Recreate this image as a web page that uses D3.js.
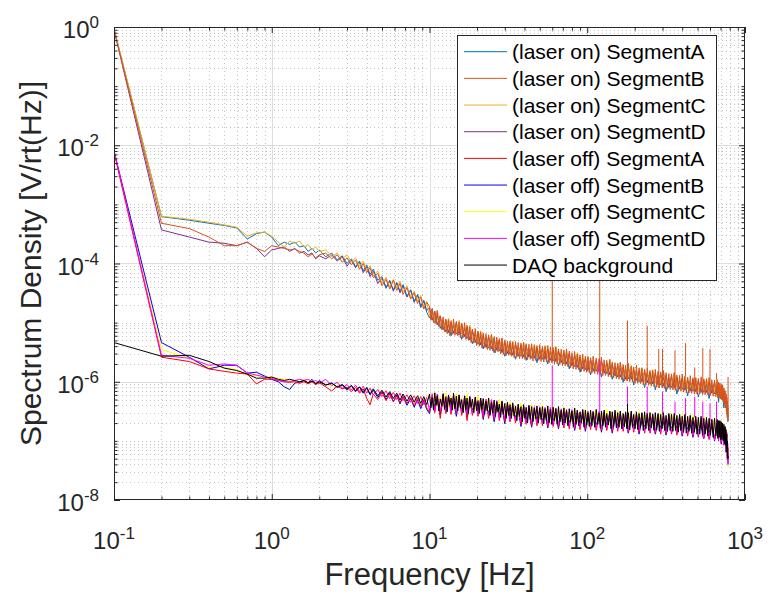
<!DOCTYPE html>
<html>
<head>
<meta charset="utf-8">
<script src="https://cdn.jsdelivr.net/npm/d3@7"></script>
<style>
  body { margin: 0; background: #fff; }
  svg { display: block; font-family: "Liberation Sans", Arial, Helvetica, sans-serif; }
</style>
</head>
<body>
<svg id="chart" width="771" height="596"></svg>
<script>
// Frequency bins (Hz). Below 10 Hz every trace shares the same bins;
// above 10 Hz most traces use the standard grid, two use a finer one.
const freqLowHz = [
  0.1,0.2,0.3,0.4,0.5,0.6,0.7,0.8,0.9,1.0,1.1,1.2,1.3,1.4,1.5,1.6,1.7,1.8,1.9,2.0,
  2.2,2.4,2.6,2.8,3.0,3.2,3.4,3.6,3.8,4.0,4.2,4.4,4.7,5.0,5.3,5.6,5.9,6.2,6.5,6.8,7.2,7.6,8.0,8.4,8.8,9.2,9.6
];
const freqHighHz = [
  10,10.4,10.8,11.2,11.7,12.2,12.7,13.2,13.7,14.2,
  14.8,15.4,16,16.7,17.3,18,18.7,19.5,20.3,21.1,
  21.9,22.8,23.7,24.7,25.7,26.7,27.7,28.8,30,31.2,
  32.4,33.7,35.1,36.5,38,39.5,41,42.7,44.4,46.2,
  48,50,52,54,56.2,58.4,60.8,63.2,65.7,68.4,
  71.1,73.9,76.9,80,83.2,86.5,90,93.6,97.3,101,
  105,109,114,119,123,128,133,139,144,150,
  156,162,169,175,182,190,197,205,213,222,
  231,240,250,260,270,281,292,304,316,329,
  342,356,370,385,400,416,433,450,468,487,
  506,527,548,570,592,616,641,666,680,693,
  707,721,735,748,758,766,772,777,781
];
const freqHighFineHz = [
  10,10.2,10.4,10.6,10.8,11.0,11.2,11.45,11.7,11.95,12.2,12.45,12.7,12.95,13.2,13.45,13.7,13.95,14.2,14.5,
  14.8,15.1,15.4,15.7,16.0,16.35,16.7,17.0,17.3,17.65,18.0,18.35,18.7,19.1,19.5,19.9,20.3,20.7,21.1,21.5,
  21.9,22.35,22.8,23.25,23.7,24.2,24.7,25.2,25.7,26.2,26.7,27.2,27.7,28.25,28.8,29.4,30.0,30.6,31.2,31.8,
  32.4,33.05,33.7,34.4,35.1,35.8,36.5,37.25,38.0,38.75,39.5,40.25,41.0,41.85,42.7,43.55,44.4,45.3,46.2,47.1,
  48.0,49.0,50.0,51.0,52.0,53.0,54.0,55.1,56.2,57.3,58.4,59.6,60.8,62.0,63.2,64.45,65.7,67.05,68.4,69.75,
  71.1,72.5,73.9,75.4,76.9,78.45,80.0,81.6,83.2,84.85,86.5,88.25,90.0,91.8,93.6,95.45,97.3,99.15,101,103,
  105,107,109,111.5,114,116.5,119,121,123,125.5,128,130.5,133,136,139,141.5,144,147,150,153,
  156,159,162,165.5,169,172,175,178.5,182,186,190,193.5,197,201,205,209,213,217.5,222,226.5,
  231,235.5,240,245,250,255,260,265,270,275.5,281,286.5,292,298,304,310,316,322.5,329,335.5,
  342,349,356,363,370,377.5,385,392.5,400,408,416,424.5,433,441.5,450,459,468,477.5,487,496.5,
  506,516.5,527,537.5,548,559,570,581,592,604,616,628.5,641,653.5,666,673,680,686.5,693,700,
  707,714,721,728,735,741.5,748,753,758,762,766,769,772,774.5,777,779,781
];

// Spectrum density, V/rt(Hz) — laser on
const onA = [
  0.93,6.2e-4,5.4e-4,4.8e-4,4.4e-4,4.0e-4,2.6e-4,3.2e-4,3.4e-4,2.8e-4,
  2.0e-4,2.3e-4,2.1e-4,2.3e-4,1.9e-4,2.0e-4,1.6e-4,1.8e-4,1.5e-4,1.7e-4,
  1.3e-4,1.5e-4,1.15e-4,1.35e-4,1.0e-4,1.2e-4,8.8e-5,1.1e-4,7.5e-5,9.5e-5,
  6.5e-5,8.0e-5,5.2e-5,6.0e-5,3.8e-5,5.0e-5,3.6e-5,4.8e-5,3.4e-5,4.4e-5,
  2.8e-5,3.6e-5,2.3e-5,3.0e-5,1.9e-5,2.4e-5,1.5e-5,
  1.2e-5,1.7e-5,1.0e-5,1.35e-5,8.0e-6,1.1e-5,7.0e-6,9.5e-6,6.0e-6,9.0e-6,
  6.4e-6,8.6e-6,5.2e-6,8.0e-6,5.4e-6,7.2e-6,4.4e-6,6.6e-6,4.3e-6,6.0e-6,
  3.6e-6,5.6e-6,3.7e-6,5.1e-6,3.1e-6,4.8e-6,3.3e-6,4.5e-6,2.7e-6,4.3e-6,
  2.9e-6,4.0e-6,2.4e-6,3.9e-6,2.7e-6,3.7e-6,2.3e-6,3.6e-6,2.5e-6,3.5e-6,
  2.1e-6,3.4e-6,2.4e-6,3.3e-6,2.0e-6,3.2e-6,2.25e-6,3.1e-6,1.85e-6,2.9e-6,
  2.0e-6,2.8e-6,1.65e-6,2.6e-6,1.8e-6,2.5e-6,1.45e-6,2.3e-6,1.6e-6,2.2e-6,
  1.3e-6,2.1e-6,1.5e-6,2.0e-6,1.2e-6,1.95e-6,1.36e-6,1.85e-6,1.1e-6,1.75e-6,
  1.2e-6,1.7e-6,9.8e-7,1.6e-6,1.12e-6,1.5e-6,8.8e-7,1.45e-6,1.0e-6,1.4e-6,
  8.0e-7,1.35e-6,9.2e-7,1.3e-6,7.3e-7,1.25e-6,8.8e-7,1.2e-6,6.8e-7,1.15e-6,
  8.0e-7,1.1e-6,6.2e-7,1.05e-6,7.4e-7,1.0e-6,5.8e-7,9.8e-7,6.9e-7,9.6e-7,
  5.5e-7,9.4e-7,6.6e-7,9.2e-7,5.2e-7,9.0e-7,6.2e-7,8.6e-7,4.5e-7,8.0e-7,
  5.4e-7,7.4e-7,3.6e-7,6.4e-7,3.7e-7,5.0e-7,2.5e-7,3.6e-7,2.2e-7
];
const onB = [
  0.9,4.8e-4,3.9e-4,2.8e-4,2.0e-4,2.0e-4,2.3e-4,1.8e-4,1.6e-4,2.0e-4,
  1.9e-4,1.8e-4,1.7e-4,1.75e-4,1.6e-4,1.5e-4,1.3e-4,1.45e-4,1.25e-4,1.4e-4,
  1.5e-4,1.2e-4,1.4e-4,1.05e-4,1.25e-4,9.5e-5,1.15e-4,8.0e-5,1.0e-4,7.0e-5,
  8.5e-5,5.8e-5,6.8e-5,4.2e-5,5.4e-5,3.7e-5,5.2e-5,3.5e-5,4.6e-5,3.0e-5,
  3.9e-5,2.5e-5,3.2e-5,2.1e-5,2.7e-5,1.7e-5,2.2e-5,
  1.9e-5,1.1e-5,1.75e-5,1.0e-5,1.55e-5,9.4e-6,1.6e-5,8.6e-6,1.3e-5,7.6e-6,1.25e-5,7.0e-6,1.15e-5,6.5e-6,1.12e-5,6.0e-6,1.08e-5,6.3e-6,1.15e-5,6.1e-6,
  1.05e-5,6.0e-6,1.02e-5,5.5e-6,9.8e-6,5.6e-6,1.0e-5,5.2e-6,9.0e-6,5.0e-6,8.5e-6,4.6e-6,7.8e-6,4.5e-6,7.9e-6,4.1e-6,7.2e-6,4.0e-6,6.9e-6,3.7e-6,
  6.7e-6,3.8e-6,6.5e-6,3.5e-6,6.2e-6,3.4e-6,6.3e-6,3.3e-6,5.8e-6,3.1e-6,5.7e-6,3.2e-6,5.4e-6,2.95e-6,5.5e-6,2.9e-6,5.1e-6,2.75e-6,4.9e-6,2.8e-6,
  4.9e-6,2.7e-6,4.7e-6,2.55e-6,4.8e-6,2.6e-6,4.6e-6,2.45e-6,4.5e-6,2.45e-6,4.6e-6,2.45e-6,4.4e-6,2.35e-6,4.3e-6,2.4e-6,4.4e-6,2.25e-6,4.15e-6,2.3e-6,
  4.1e-6,2.3e-6,4.25e-6,2.2e-6,4.0e-6,2.15e-6,3.95e-6,2.15e-6,4.1e-6,2.1e-6,3.85e-6,2.1e-6,3.8e-6,2.0e-6,3.9e-6,2.0e-6,3.6e-6,1.95e-6,3.55e-6,1.85e-6,
  3.45e-6,1.85e-6,3.6e-6,1.8e-6,3.3e-6,1.72e-6,3.1e-6,1.65e-6,3.25e-6,1.62e-6,2.95e-6,1.6e-6,2.85e-6,1.5e-6,2.95e-6,1.5e-6,2.7e-6,1.45e-6,2.65e-6,1.42e-6,
  2.55e-6,1.4e-6,2.7e-6,1.38e-6,2.5e-6,1.33e-6,2.45e-6,1.33e-6,2.6e-6,1.27e-6,2.35e-6,1.28e-6,2.3e-6,1.22e-6,2.4e-6,1.2e-6,2.15e-6,1.16e-6,2.1e-6,1.13e-6,
  2.05e-6,1.1e-6,2.15e-6,1.08e-6,1.95e-6,1.04e-6,1.92e-6,1.03e-6,2.05e-6,1.0e-6,1.82e-6,9.9e-7,1.78e-6,9.5e-7,1.9e-6,9.4e-7,1.72e-6,9.3e-7,1.7e-6,8.9e-7,
  1.62e-6,8.9e-7,1.72e-6,8.7e-7,1.56e-6,8.4e-7,1.55e-6,8.3e-7,1.62e-6,8.1e-7,1.5e-6,7.9e-7,1.47e-6,7.9e-7,1.55e-6,7.7e-7,1.42e-6,7.5e-7,1.37e-6,7.4e-7,
  1.36e-6,7.3e-7,1.43e-6,7.2e-7,1.3e-6,6.9e-7,1.28e-6,6.9e-7,1.35e-6,6.7e-7,1.23e-6,6.5e-7,1.2e-6,6.5e-7,1.27e-6,6.4e-7,1.17e-6,6.2e-7,1.15e-6,6.2e-7,
  1.14e-6,6.2e-7,1.21e-6,6.1e-7,1.12e-6,6.0e-7,1.11e-6,6.0e-7,1.18e-6,5.9e-7,1.08e-6,5.7e-7,1.06e-6,5.6e-7,1.1e-6,5.4e-7,9.8e-7,5.3e-7,9.5e-7,5.1e-7,
  9.1e-7,4.9e-7,8.7e-7,4.5e-7,7.9e-7,4.1e-7,7.1e-7,3.6e-7,6.3e-7,3.2e-7,5.5e-7,2.8e-7,4.7e-7,2.4e-7,4.0e-7,2.1e-7,2.9e-7
];
const onC = [
  0.95,6.3e-4,5.6e-4,5.0e-4,4.5e-4,4.1e-4,2.9e-4,3.3e-4,3.4e-4,2.9e-4,
  2.3e-4,1.9e-4,2.4e-4,2.2e-4,2.4e-4,1.9e-4,2.1e-4,1.7e-4,1.9e-4,1.6e-4,
  1.7e-4,1.3e-4,1.5e-4,1.2e-4,1.4e-4,1.05e-4,1.25e-4,9.0e-5,1.1e-4,7.8e-5,
  9.2e-5,6.2e-5,7.5e-5,4.6e-5,5.8e-5,4.0e-5,5.4e-5,3.9e-5,5.0e-5,3.3e-5,
  4.2e-5,2.7e-5,3.4e-5,2.3e-5,2.9e-5,1.8e-5,2.3e-5,
  1.25e-5,1.6e-5,1.05e-5,1.6e-5,9.0e-6,1.15e-5,7.5e-6,1.2e-5,7.0e-6,9.8e-6,
  6.8e-6,1.1e-5,6.4e-6,8.6e-6,5.8e-6,9.0e-6,5.1e-6,6.8e-6,4.6e-6,7.3e-6,
  4.3e-6,5.8e-6,3.9e-6,6.3e-6,3.7e-6,5.0e-6,3.5e-6,5.5e-6,3.2e-6,4.4e-6,
  3.1e-6,4.9e-6,2.9e-6,4.1e-6,2.8e-6,4.6e-6,2.8e-6,3.8e-6,2.7e-6,4.3e-6,
  2.6e-6,3.6e-6,2.6e-6,4.1e-6,2.5e-6,3.4e-6,2.4e-6,3.9e-6,2.3e-6,3.1e-6,
  2.1e-6,3.4e-6,2.0e-6,2.8e-6,1.9e-6,3.1e-6,1.8e-6,2.5e-6,1.7e-6,2.7e-6,
  1.6e-6,2.3e-6,1.6e-6,2.5e-6,1.5e-6,2.1e-6,1.45e-6,2.3e-6,1.35e-6,1.85e-6,
  1.3e-6,2.1e-6,1.25e-6,1.7e-6,1.2e-6,1.9e-6,1.1e-6,1.55e-6,1.05e-6,1.75e-6,
  1.0e-6,1.45e-6,9.8e-7,1.6e-6,9.4e-7,1.32e-6,9.4e-7,1.5e-6,9.0e-7,1.2e-6,
  8.5e-7,1.4e-6,8.2e-7,1.12e-6,7.8e-7,1.25e-6,7.5e-7,1.04e-6,7.3e-7,1.2e-6,
  7.1e-7,1.0e-6,7.0e-7,1.15e-6,6.9e-7,9.6e-7,6.6e-7,1.05e-6,6.1e-7,8.4e-7,
  5.7e-7,8.8e-7,4.9e-7,6.2e-7,3.9e-7,5.6e-7,3.0e-7,3.6e-7,2.5e-7
];
const onD = [
  0.9,3.7e-4,2.8e-4,2.3e-4,2.2e-4,2.0e-4,2.3e-4,1.8e-4,1.3e-4,1.7e-4,
  1.8e-4,1.9e-4,1.6e-4,1.8e-4,1.5e-4,1.6e-4,1.4e-4,1.5e-4,1.2e-4,1.35e-4,
  1.2e-4,1.4e-4,1.1e-4,1.3e-4,9.0e-5,1.15e-4,8.5e-5,1.05e-4,7.0e-5,8.8e-5,
  6.0e-5,7.4e-5,4.6e-5,5.6e-5,4.0e-5,5.2e-5,3.4e-5,4.6e-5,3.2e-5,4.2e-5,
  2.7e-5,3.5e-5,2.2e-5,2.9e-5,1.8e-5,2.3e-5,1.6e-5,
  1.8e-5,1.1e-5,1.55e-5,9.2e-6,1.3e-5,7.6e-6,1.1e-5,6.8e-6,1.0e-5,6.6e-6,
  1.0e-5,6.2e-6,9.4e-6,5.8e-6,8.5e-6,5.1e-6,7.5e-6,4.6e-6,6.8e-6,4.2e-6,
  6.2e-6,3.8e-6,5.8e-6,3.6e-6,5.4e-6,3.4e-6,5.1e-6,3.1e-6,4.8e-6,3.0e-6,
  4.5e-6,2.8e-6,4.3e-6,2.7e-6,4.2e-6,2.6e-6,4.1e-6,2.6e-6,3.9e-6,2.5e-6,
  3.8e-6,2.4e-6,3.7e-6,2.4e-6,3.6e-6,2.3e-6,3.5e-6,2.2e-6,3.4e-6,2.1e-6,
  3.1e-6,2.0e-6,3.0e-6,1.85e-6,2.8e-6,1.75e-6,2.6e-6,1.65e-6,2.5e-6,1.55e-6,
  2.4e-6,1.5e-6,2.3e-6,1.45e-6,2.25e-6,1.4e-6,2.1e-6,1.3e-6,2.0e-6,1.25e-6,
  1.9e-6,1.2e-6,1.8e-6,1.1e-6,1.75e-6,1.1e-6,1.6e-6,1.05e-6,1.55e-6,1.0e-6,
  1.5e-6,9.6e-7,1.45e-6,9.2e-7,1.4e-6,8.8e-7,1.4e-6,8.4e-7,1.3e-6,8.0e-7,
  1.25e-6,7.8e-7,1.2e-6,7.5e-7,1.15e-6,7.2e-7,1.1e-6,7.0e-7,1.1e-6,6.8e-7,
  1.05e-6,6.6e-7,1.05e-6,6.6e-7,1.0e-6,6.4e-7,9.8e-7,6.0e-7,9.0e-7,5.6e-7,
  8.4e-7,5.0e-7,7.2e-7,4.2e-7,5.8e-7,3.2e-7,4.4e-7,2.5e-7,2.8e-7
];

// Spectrum density, V/rt(Hz) — laser off
const offA = [
  7.6e-3,2.6e-6,2.2e-6,1.65e-6,1.5e-6,1.4e-6,1.35e-6,9.2e-7,1.1e-6,1.1e-6,
  1.05e-6,1.0e-6,9.8e-7,1.0e-6,9.4e-7,1.0e-6,9.2e-7,1.0e-6,9.0e-7,9.6e-7,
  8.2e-7,7.0e-7,8.4e-7,7.6e-7,8.0e-7,6.8e-7,8.0e-7,6.4e-7,7.6e-7,5.2e-7,
  4.1e-7,6.2e-7,5.0e-7,6.6e-7,4.8e-7,6.2e-7,4.6e-7,5.8e-7,4.4e-7,5.6e-7,
  4.3e-7,5.4e-7,3.9e-7,5.2e-7,3.8e-7,5.0e-7,3.6e-7,
  3.1e-7,5.8e-7,3.0e-7,5.7e-7,2.4e-7,5.6e-7,2.9e-7,5.5e-7,2.8e-7,5.4e-7,
  2.9e-7,5.4e-7,2.7e-7,5.2e-7,2.2e-7,5.1e-7,2.7e-7,5.0e-7,2.6e-7,4.8e-7,
  2.5e-7,4.7e-7,2.4e-7,4.6e-7,2.3e-7,4.4e-7,2.2e-7,4.2e-7,2.1e-7,4.0e-7,
  2.1e-7,3.9e-7,2.0e-7,3.7e-7,1.9e-7,3.6e-7,1.9e-7,3.6e-7,1.8e-7,3.5e-7,
  1.8e-7,3.5e-7,1.8e-7,3.4e-7,1.75e-7,3.4e-7,1.75e-7,3.3e-7,1.7e-7,3.3e-7,
  1.65e-7,3.2e-7,1.6e-7,3.1e-7,1.6e-7,3.1e-7,1.55e-7,3.0e-7,1.55e-7,3.0e-7,
  1.55e-7,3.0e-7,1.5e-7,2.9e-7,1.5e-7,2.9e-7,1.5e-7,2.9e-7,1.45e-7,2.9e-7,
  1.45e-7,2.8e-7,1.45e-7,2.8e-7,1.4e-7,2.8e-7,1.4e-7,2.7e-7,1.4e-7,2.7e-7,
  1.35e-7,2.7e-7,1.35e-7,2.7e-7,1.35e-7,2.6e-7,1.3e-7,2.6e-7,1.3e-7,2.6e-7,
  1.3e-7,2.5e-7,1.25e-7,2.5e-7,1.25e-7,2.5e-7,1.2e-7,2.4e-7,1.2e-7,2.3e-7,
  1.15e-7,2.3e-7,1.1e-7,2.2e-7,1.05e-7,2.1e-7,1.05e-7,2.0e-7,1.0e-7,2.0e-7,
  9.4e-8,1.8e-7,8.4e-8,1.6e-7,7.0e-8,1.3e-7,5.0e-8,8.0e-8,4.5e-8
];
const offB = [
  8.0e-3,4.6e-6,2.6e-6,1.65e-6,1.9e-6,1.9e-6,1.4e-6,1.45e-6,1.25e-6,1.1e-6,
  1.0e-6,8.2e-7,7.4e-7,9.5e-7,9.8e-7,1.05e-6,9.6e-7,1.1e-6,9.0e-7,1.05e-6,
  8.8e-7,9.6e-7,8.0e-7,8.8e-7,7.2e-7,8.6e-7,6.8e-7,8.2e-7,6.4e-7,7.8e-7,
  6.0e-7,7.2e-7,5.4e-7,6.8e-7,5.0e-7,6.4e-7,4.6e-7,6.0e-7,4.2e-7,5.6e-7,
  4.0e-7,5.2e-7,3.7e-7,5.0e-7,3.5e-7,4.8e-7,3.4e-7,
  2.9e-7,5.2e-7,3.7e-7,5.0e-7,2.8e-7,4.9e-7,3.6e-7,5.1e-7,3.5e-7,4.8e-7,
  2.6e-7,4.7e-7,3.4e-7,4.6e-7,2.5e-7,4.5e-7,3.3e-7,4.4e-7,3.2e-7,4.3e-7,
  2.3e-7,4.1e-7,3.0e-7,4.0e-7,2.1e-7,3.8e-7,2.8e-7,3.7e-7,1.95e-7,3.5e-7,
  2.6e-7,3.4e-7,2.5e-7,3.3e-7,1.75e-7,3.2e-7,2.3e-7,3.1e-7,1.7e-7,3.1e-7,
  2.3e-7,3.0e-7,2.2e-7,3.0e-7,1.65e-7,2.9e-7,2.2e-7,2.9e-7,1.6e-7,2.8e-7,
  2.1e-7,2.7e-7,2.05e-7,2.7e-7,1.5e-7,2.6e-7,2.0e-7,2.6e-7,1.45e-7,2.5e-7,
  1.9e-7,2.5e-7,1.9e-7,2.5e-7,1.4e-7,2.4e-7,1.85e-7,2.4e-7,1.35e-7,2.4e-7,
  1.8e-7,2.4e-7,1.8e-7,2.3e-7,1.35e-7,2.3e-7,1.8e-7,2.3e-7,1.3e-7,2.2e-7,
  1.75e-7,2.2e-7,1.7e-7,2.2e-7,1.3e-7,2.1e-7,1.7e-7,2.1e-7,1.25e-7,2.1e-7,
  1.65e-7,2.0e-7,1.65e-7,2.0e-7,1.2e-7,2.0e-7,1.6e-7,1.9e-7,1.15e-7,1.9e-7,
  1.5e-7,1.8e-7,1.1e-7,1.75e-7,1.4e-7,1.7e-7,1.0e-7,1.7e-7,1.25e-7,1.6e-7,
  8.8e-8,1.5e-7,1.05e-7,1.3e-7,6.4e-8,1.0e-7,5.5e-8,6.0e-8,4.0e-8
];
const offC = [
  7.8e-3,3.5e-6,2.5e-6,1.75e-6,1.75e-6,1.6e-6,1.3e-6,1.25e-6,1.25e-6,1.2e-6,
  1.15e-6,1.1e-6,1.05e-6,9.6e-7,1.0e-6,1.1e-6,1.0e-6,1.05e-6,9.6e-7,1.0e-6,
  9.2e-7,8.4e-7,9.4e-7,7.8e-7,8.8e-7,7.4e-7,8.6e-7,7.0e-7,8.4e-7,6.6e-7,
  8.0e-7,6.2e-7,7.6e-7,5.8e-7,7.2e-7,5.6e-7,6.8e-7,5.2e-7,6.6e-7,5.0e-7,
  6.2e-7,4.8e-7,6.0e-7,4.6e-7,5.8e-7,4.4e-7,5.6e-7,
  5.9e-7,4.0e-7,6.6e-7,3.9e-7,5.7e-7,3.8e-7,6.5e-7,3.8e-7,5.6e-7,3.7e-7,
  6.4e-7,3.7e-7,5.4e-7,3.6e-7,6.1e-7,3.5e-7,5.1e-7,3.4e-7,5.8e-7,3.4e-7,
  4.9e-7,3.2e-7,5.4e-7,3.1e-7,4.5e-7,3.0e-7,5.1e-7,2.9e-7,4.2e-7,2.8e-7,
  4.6e-7,2.7e-7,3.9e-7,2.6e-7,4.3e-7,2.5e-7,3.6e-7,2.5e-7,4.2e-7,2.4e-7,
  3.55e-7,2.4e-7,4.1e-7,2.35e-7,3.5e-7,2.35e-7,3.9e-7,2.3e-7,3.35e-7,2.25e-7,
  3.8e-7,2.2e-7,3.2e-7,2.15e-7,3.6e-7,2.1e-7,3.1e-7,2.1e-7,3.5e-7,2.05e-7,
  3.0e-7,2.05e-7,3.4e-7,2.0e-7,2.95e-7,2.0e-7,3.4e-7,2.0e-7,2.9e-7,1.95e-7,
  3.3e-7,1.95e-7,2.85e-7,1.95e-7,3.2e-7,1.9e-7,2.8e-7,1.9e-7,3.2e-7,1.85e-7,
  2.75e-7,1.85e-7,3.1e-7,1.85e-7,2.7e-7,1.8e-7,3.0e-7,1.8e-7,2.6e-7,1.75e-7,
  3.0e-7,1.75e-7,2.55e-7,1.7e-7,2.9e-7,1.7e-7,2.5e-7,1.65e-7,2.8e-7,1.6e-7,
  2.3e-7,1.55e-7,2.6e-7,1.5e-7,2.2e-7,1.45e-7,2.4e-7,1.4e-7,2.0e-7,1.35e-7,
  2.2e-7,1.25e-7,1.7e-7,1.1e-7,1.6e-7,8.5e-8,1.0e-7,5.5e-8,3.5e-8
];
const offD = [
  8.2e-3,2.8e-6,2.5e-6,1.9e-6,2.0e-6,1.9e-6,1.4e-6,1.3e-6,1.2e-6,1.15e-6,
  1.05e-6,1.0e-6,1.0e-6,1.05e-6,1.1e-6,1.05e-6,1.1e-6,1.0e-6,1.05e-6,9.4e-7,
  1.1e-6,8.6e-7,9.8e-7,7.8e-7,9.0e-7,7.2e-7,8.8e-7,6.8e-7,8.4e-7,6.4e-7,
  7.8e-7,6.0e-7,7.4e-7,5.6e-7,7.0e-7,5.2e-7,6.6e-7,5.0e-7,6.4e-7,4.8e-7,
  6.0e-7,4.5e-7,5.8e-7,4.3e-7,5.6e-7,4.1e-7,5.4e-7,
  3.3e-7,6.3e-7,3.2e-7,6.2e-7,3.2e-7,6.1e-7,3.1e-7,6.0e-7,3.1e-7,5.9e-7,
  3.1e-7,5.9e-7,3.0e-7,5.7e-7,2.9e-7,5.6e-7,2.9e-7,5.5e-7,2.8e-7,5.3e-7,
  2.7e-7,5.1e-7,2.6e-7,5.0e-7,2.5e-7,4.8e-7,2.4e-7,4.6e-7,2.3e-7,4.4e-7,
  2.2e-7,4.2e-7,2.2e-7,4.0e-7,2.1e-7,3.9e-7,2.0e-7,3.9e-7,2.0e-7,3.8e-7,
  1.95e-7,3.8e-7,1.95e-7,3.7e-7,1.9e-7,3.7e-7,1.9e-7,3.6e-7,1.85e-7,3.5e-7,
  1.8e-7,3.4e-7,1.75e-7,3.4e-7,1.7e-7,3.3e-7,1.7e-7,3.3e-7,1.65e-7,3.2e-7,
  1.65e-7,3.2e-7,1.6e-7,3.2e-7,1.6e-7,3.1e-7,1.6e-7,3.1e-7,1.55e-7,3.1e-7,
  1.55e-7,3.0e-7,1.55e-7,3.0e-7,1.5e-7,3.0e-7,1.5e-7,2.9e-7,1.5e-7,2.9e-7,
  1.45e-7,2.9e-7,1.45e-7,2.9e-7,1.4e-7,2.8e-7,1.4e-7,2.8e-7,1.4e-7,2.8e-7,
  1.35e-7,2.7e-7,1.35e-7,2.7e-7,1.3e-7,2.7e-7,1.3e-7,2.6e-7,1.25e-7,2.5e-7,
  1.2e-7,2.4e-7,1.15e-7,2.3e-7,1.1e-7,2.3e-7,1.05e-7,2.2e-7,1.0e-7,2.1e-7,
  9.6e-8,1.9e-7,8.6e-8,1.7e-7,7.0e-8,1.4e-7,5.0e-8,9.0e-8,4.0e-8
];

// Acquisition-system noise floor, V/rt(Hz) (fine grid above 10 Hz)
const daqBackground = [
  4.6e-6,2.7e-6,2.8e-6,2.2e-6,1.7e-6,1.55e-6,1.35e-6,1.15e-6,1.15e-6,1.2e-6,
  1.1e-6,1.05e-6,1.1e-6,1.05e-6,1.0e-6,1.05e-6,9.6e-7,1.02e-6,9.4e-7,1.0e-6,
  8.8e-7,9.4e-7,8.2e-7,9.0e-7,7.6e-7,8.6e-7,7.0e-7,8.2e-7,6.6e-7,8.0e-7,
  6.2e-7,7.6e-7,5.8e-7,7.2e-7,5.5e-7,6.8e-7,5.2e-7,6.4e-7,4.9e-7,6.2e-7,
  4.7e-7,6.0e-7,4.5e-7,5.8e-7,4.3e-7,5.6e-7,4.1e-7,
  6.2e-7,3.6e-7,5.4e-7,3.3e-7,6.5e-7,4.0e-7,5.8e-7,3.2e-7,5.1e-7,3.9e-7,6.3e-7,3.4e-7,5.6e-7,3.1e-7,5.9e-7,4.1e-7,5.3e-7,3.3e-7,6.4e-7,3.5e-7,
  5.7e-7,3.2e-7,6.0e-7,3.6e-7,5.0e-7,3.0e-7,5.8e-7,3.4e-7,5.3e-7,2.9e-7,5.6e-7,3.7e-7,5.1e-7,3.0e-7,5.5e-7,3.2e-7,4.8e-7,2.9e-7,5.3e-7,3.4e-7,
  5.2e-7,2.8e-7,4.7e-7,3.2e-7,5.3e-7,2.7e-7,4.5e-7,3.0e-7,4.9e-7,2.6e-7,4.6e-7,3.1e-7,4.2e-7,2.5e-7,4.7e-7,2.8e-7,4.3e-7,2.4e-7,4.5e-7,2.7e-7,
  4.1e-7,2.4e-7,4.4e-7,2.6e-7,3.9e-7,2.2e-7,4.2e-7,2.6e-7,3.8e-7,2.1e-7,4.1e-7,2.4e-7,3.7e-7,2.0e-7,4.0e-7,2.3e-7,3.8e-7,2.1e-7,3.6e-7,2.4e-7,
  3.9e-7,2.0e-7,3.6e-7,2.3e-7,3.8e-7,1.95e-7,3.5e-7,2.2e-7,3.9e-7,2.0e-7,3.4e-7,1.9e-7,3.7e-7,2.2e-7,3.5e-7,1.9e-7,3.8e-7,2.1e-7,3.3e-7,1.85e-7,
  3.6e-7,2.0e-7,3.3e-7,1.8e-7,3.5e-7,2.1e-7,3.2e-7,1.75e-7,3.6e-7,1.9e-7,3.3e-7,1.8e-7,3.1e-7,2.0e-7,3.4e-7,1.7e-7,3.3e-7,1.85e-7,3.0e-7,1.75e-7,
  3.3e-7,1.8e-7,3.1e-7,1.7e-7,3.4e-7,1.9e-7,3.0e-7,1.65e-7,3.2e-7,1.8e-7,3.3e-7,1.7e-7,2.9e-7,1.85e-7,3.2e-7,1.6e-7,3.1e-7,1.75e-7,3.3e-7,1.65e-7,
  3.0e-7,1.7e-7,3.2e-7,1.6e-7,2.9e-7,1.75e-7,3.1e-7,1.6e-7,3.0e-7,1.55e-7,3.2e-7,1.7e-7,2.8e-7,1.6e-7,3.1e-7,1.55e-7,2.9e-7,1.7e-7,3.0e-7,1.5e-7,
  3.1e-7,1.6e-7,2.9e-7,1.5e-7,3.0e-7,1.65e-7,2.8e-7,1.5e-7,3.0e-7,1.55e-7,2.9e-7,1.45e-7,2.8e-7,1.6e-7,3.0e-7,1.5e-7,2.7e-7,1.45e-7,2.9e-7,1.5e-7,
  2.8e-7,1.45e-7,2.9e-7,1.5e-7,2.7e-7,1.4e-7,2.8e-7,1.5e-7,2.6e-7,1.4e-7,2.8e-7,1.35e-7,2.6e-7,1.45e-7,2.7e-7,1.35e-7,2.5e-7,1.4e-7,2.6e-7,1.3e-7,
  2.5e-7,1.3e-7,2.6e-7,1.25e-7,2.4e-7,1.3e-7,2.5e-7,1.2e-7,2.4e-7,1.25e-7,2.3e-7,1.15e-7,2.4e-7,1.2e-7,2.3e-7,1.1e-7,2.2e-7,1.15e-7,2.2e-7,1.05e-7,
  2.1e-7,1.05e-7,2.0e-7,1.0e-7,1.9e-7,9.0e-8,1.75e-7,8.5e-8,1.55e-7,7.5e-8,1.3e-7,6.5e-8,1.0e-7,5.5e-8,7.5e-8,5.0e-8,5.5e-8
];

// Narrow mains-harmonic lines: [frequency Hz, peak V/rt(Hz)]
const linesOnB = [[60, 3.0e-4], [120, 3.0e-4], [180, 1.08e-5], [240, 8.8e-6], [284, 3.6e-6], [300, 3.6e-6],
  [360, 3.4e-6], [420, 4.5e-6], [480, 1.75e-6], [540, 3.7e-6], [600, 3.6e-6], [660, 1.4e-6], [781, 1.2e-6]];
const linesOffD = [[60, 1.9e-6], [120, 2.3e-6], [180, 8.3e-7], [240, 8.3e-7], [300, 6.8e-7], [360, 4.6e-7],
  [420, 5.3e-7], [480, 5.6e-7], [540, 4.6e-7], [600, 4.3e-7], [660, 4.6e-7]];
const linesDAQ = [[180, 4.2e-7]];

const seriesNames = [
  "(laser on) SegmentA", "(laser on) SegmentB", "(laser on) SegmentC", "(laser on) SegmentD",
  "(laser off) SegmentA", "(laser off) SegmentB", "(laser off) SegmentC", "(laser off) SegmentD",
  "DAQ background"
];
const seriesColors = ["#0072BD", "#D95319", "#EDB120", "#7E2F8E", "#FF0000", "#0000FF", "#FFFF00", "#FF00FF", "#000000"];
const seriesValues = [onA, onB, onC, onD, offA, offB, offC, offD, daqBackground];
const seriesLines = [[], linesOnB, [], [], [], [], [], linesOffD, linesDAQ];
const seriesFine = [false, true, false, false, false, false, false, false, true];
const drawOrder = [3, 0, 2, 1, 6, 5, 4, 7, 8];

const xMajorTicks = [0.1, 1, 10, 100, 1000];
const xTickExponents = ["-1", "0", "1", "2", "3"];
const yMajorTicks = [1e-8, 1e-6, 1e-4, 1e-2, 1];
const yTickExponents = ["-8", "-6", "-4", "-2", "0"];

// ---------- layout ----------
const plot = { left: 114, right: 745, top: 27, bottom: 500 };
const axisColor = "#262626";
const svg = d3.select("#chart");

const x = d3.scaleLog().domain([0.1, 1000]).range([plot.left, plot.right]);
const y = d3.scaleLog().domain([1e-8, 1]).range([plot.bottom, plot.top]);

const freqCoarse = freqLowHz.concat(freqHighHz);
const freqFine = freqLowHz.concat(freqHighFineHz);

// minor tick positions: 2..9 multiples inside each decade (plus the unlabeled decades on y)
const xMinorTicks = [];
for (let k = -1; k <= 2; k++) for (let m = 2; m <= 9; m++) xMinorTicks.push(m * Math.pow(10, k));
const yMinorTicks = [];
for (let k = -8; k <= -1; k++) {
  for (let m = 1; m <= 9; m++) {
    if (m === 1 && (k % 2 === 0)) continue;
    yMinorTicks.push(m * Math.pow(10, k));
  }
}

// ---------- grid ----------
const grid = svg.append("g").attr("shape-rendering", "crispEdges");
grid.selectAll(".gxm").data(xMinorTicks).join("line")
  .attr("x1", d => Math.round(x(d)) + 0.5).attr("x2", d => Math.round(x(d)) + 0.5)
  .attr("y1", plot.top).attr("y2", plot.bottom)
  .attr("stroke", "#c4c4c4").attr("stroke-width", 1).attr("stroke-dasharray", "1,3");
grid.selectAll(".gym").data(yMinorTicks).join("line")
  .attr("y1", d => Math.round(y(d)) + 0.5).attr("y2", d => Math.round(y(d)) + 0.5)
  .attr("x1", plot.left).attr("x2", plot.right)
  .attr("stroke", "#c4c4c4").attr("stroke-width", 1).attr("stroke-dasharray", "1,3");
grid.selectAll(".gxM").data(xMajorTicks.slice(1, -1)).join("line")
  .attr("x1", d => Math.round(x(d)) + 0.5).attr("x2", d => Math.round(x(d)) + 0.5)
  .attr("y1", plot.top).attr("y2", plot.bottom)
  .attr("stroke", "#dedede").attr("stroke-width", 1);
grid.selectAll(".gyM").data(yMajorTicks.slice(1, -1)).join("line")
  .attr("y1", d => Math.round(y(d)) + 0.5).attr("y2", d => Math.round(y(d)) + 0.5)
  .attr("x1", plot.left).attr("x2", plot.right)
  .attr("stroke", "#dedede").attr("stroke-width", 1);

// ---------- spectra ----------
svg.append("defs").append("clipPath").attr("id", "plotClip")
  .append("rect").attr("x", plot.left).attr("y", plot.top)
  .attr("width", plot.right - plot.left).attr("height", plot.bottom - plot.top);

const traces = svg.append("g").attr("clip-path", "url(#plotClip)");
const line = d3.line().x(d => x(d[0])).y(d => y(d[1]));

drawOrder.forEach(i => {
  const vals = seriesValues[i];
  const freqs = seriesFine[i] ? freqFine : freqCoarse;
  const pts = freqs.map((f, j) => [f, vals[j]]).filter(p => p[1] > 0);
  traces.append("path")
    .attr("d", line(pts))
    .attr("fill", "none")
    .attr("stroke", seriesColors[i])
    .attr("stroke-width", 1)
    .attr("stroke-linejoin", "round");
  // harmonic lines rise from the spectrum value at their bin
  seriesLines[i].forEach(([f, peak]) => {
    const j = d3.minIndex(freqs, g => Math.abs(Math.log(g / f)));
    traces.append("line")
      .attr("x1", x(f)).attr("x2", x(f))
      .attr("y1", y(vals[j])).attr("y2", y(peak))
      .attr("stroke", seriesColors[i]).attr("stroke-width", 1);
  });
});

// ---------- axes (ticks drawn inward on all four sides) ----------
function styleAxis(g) {
  g.select(".domain").remove();
  g.selectAll(".tick line").attr("stroke", axisColor).attr("stroke-width", 1);
  g.selectAll(".tick text").remove();
}
const tMaj = 6, tMin = 3.5;
[[xMajorTicks, tMaj], [xMinorTicks, tMin]].forEach(([vals, len]) => {
  svg.append("g").attr("transform", `translate(0,${plot.bottom})`)
    .call(d3.axisBottom(x).tickValues(vals).tickSizeInner(-len).tickSizeOuter(0).tickFormat(""))
    .call(styleAxis);
  svg.append("g").attr("transform", `translate(0,${plot.top})`)
    .call(d3.axisTop(x).tickValues(vals).tickSizeInner(-len).tickSizeOuter(0).tickFormat(""))
    .call(styleAxis);
});
[[yMajorTicks, tMaj], [yMinorTicks, tMin]].forEach(([vals, len]) => {
  svg.append("g").attr("transform", `translate(${plot.left},0)`)
    .call(d3.axisLeft(y).tickValues(vals).tickSizeInner(-len).tickSizeOuter(0).tickFormat(""))
    .call(styleAxis);
  svg.append("g").attr("transform", `translate(${plot.right},0)`)
    .call(d3.axisRight(y).tickValues(vals).tickSizeInner(-len).tickSizeOuter(0).tickFormat(""))
    .call(styleAxis);
});

svg.append("rect")
  .attr("x", plot.left + 0.5).attr("y", plot.top + 0.5)
  .attr("width", plot.right - plot.left - 1).attr("height", plot.bottom - plot.top - 1)
  .attr("fill", "none").attr("stroke", axisColor).attr("stroke-width", 1)
  .attr("shape-rendering", "crispEdges");

// tick labels as powers of ten
const baseSize = 24, supSize = 17, supRise = 10;
function powerLabel(g, exp) {
  g.append("tspan").attr("font-size", baseSize).text("10");
  g.append("tspan").attr("font-size", supSize).attr("dy", -supRise).text(exp);
}
xMajorTicks.forEach((v, i) => {
  const t = svg.append("text").attr("x", x(v)).attr("y", 549)
    .attr("text-anchor", "middle").attr("fill", axisColor);
  powerLabel(t, xTickExponents[i]);
});
yMajorTicks.forEach((v, i) => {
  const t = svg.append("text").attr("x", 99).attr("y", y(v) + 11)
    .attr("text-anchor", "end").attr("fill", axisColor);
  powerLabel(t, yTickExponents[i]);
});

// axis titles
svg.append("text")
  .attr("x", (plot.left + plot.right) / 2).attr("y", 585)
  .attr("text-anchor", "middle").attr("font-size", 31).attr("fill", axisColor)
  .text("Frequency [Hz]");
svg.append("text")
  .attr("transform", `translate(41,${(plot.top + plot.bottom) / 2}) rotate(-90)`)
  .attr("text-anchor", "middle").attr("font-size", 30).attr("fill", axisColor)
  .text("Spectrum Density [V/rt(Hz)]");

// ---------- legend ----------
const legend = svg.append("g");
const lg = { x0: 457.5, x1: 716.5, y0: 35.5, y1: 280.5, row0: 51.7, rowStep: 26.67 };
legend.append("rect")
  .attr("x", lg.x0).attr("y", lg.y0).attr("width", lg.x1 - lg.x0).attr("height", lg.y1 - lg.y0)
  .attr("fill", "#fff").attr("stroke", axisColor).attr("stroke-width", 1)
  .attr("shape-rendering", "crispEdges");
seriesNames.forEach((name, i) => {
  const cy = lg.row0 + i * lg.rowStep;
  legend.append("line")
    .attr("x1", 464).attr("x2", 507).attr("y1", cy).attr("y2", cy)
    .attr("stroke", seriesColors[i]).attr("stroke-width", 1);
  legend.append("text")
    .attr("x", 512).attr("y", cy + 7.5)
    .attr("font-size", 21).attr("fill", "#000")
    .text(name);
});
</script>
</body>
</html>
